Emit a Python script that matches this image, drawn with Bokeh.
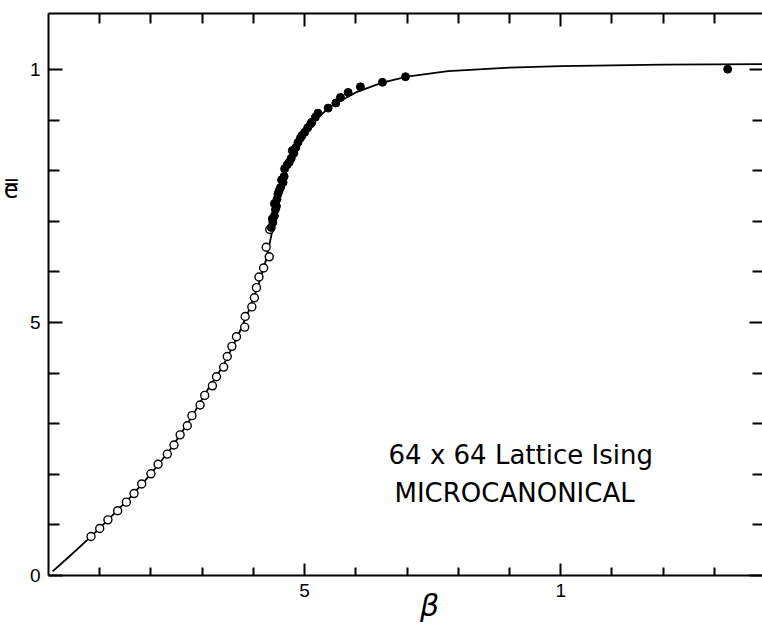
from bokeh.plotting import figure
from bokeh.models import LinearAxis, FixedTicker, Range1d
from bokeh.core.properties import value
from bokeh.embed import file_html
from bokeh.resources import INLINE

# ---- data ----
curve_x = [0.008, 0.04, 0.083, 0.12, 0.16, 0.20, 0.24, 0.28, 0.31, 0.34, 0.37, 0.39,
           0.41, 0.425, 0.435, 0.443, 0.45, 0.46, 0.47, 0.48, 0.50, 0.52, 0.55, 0.60,
           0.65, 0.70, 0.78, 0.90, 1.0, 1.2, 1.394]
curve_y = [0.008, 0.037, 0.077, 0.114, 0.155, 0.201, 0.252, 0.314, 0.366, 0.413, 0.474, 0.521,
           0.575, 0.625, 0.672, 0.715, 0.748, 0.788, 0.815, 0.840, 0.875, 0.900, 0.927, 0.955,
           0.974, 0.986, 0.997, 1.004, 1.007, 1.010, 1.011]

open_x = [0.083, 0.100, 0.116, 0.135, 0.152, 0.167, 0.182, 0.200, 0.214, 0.232, 0.245, 0.257,
          0.271, 0.280, 0.296, 0.305, 0.320, 0.328, 0.342, 0.349, 0.358, 0.367, 0.383, 0.384,
          0.397, 0.402, 0.406, 0.411, 0.420, 0.431, 0.425, 0.432]
open_y = [0.077, 0.093, 0.110, 0.128, 0.145, 0.162, 0.181, 0.201, 0.220, 0.240, 0.258, 0.278,
          0.296, 0.316, 0.337, 0.356, 0.375, 0.393, 0.412, 0.433, 0.453, 0.472, 0.491, 0.512,
          0.531, 0.549, 0.569, 0.590, 0.608, 0.630, 0.649, 0.684]

filled_x = [0.435, 0.438, 0.441, 0.443, 0.441, 0.446, 0.448, 0.453, 0.458, 0.460, 0.461, 0.470,
            0.474, 0.479, 0.483, 0.487, 0.492, 0.500, 0.506, 0.514, 0.521, 0.526, 0.546, 0.561,
            0.570, 0.585, 0.609, 0.652, 0.697, 1.326,
            0.437, 0.445, 0.450, 0.455, 0.466, 0.476, 0.495, 0.512]
filled_y = [0.688, 0.698, 0.711, 0.723, 0.735, 0.744, 0.754, 0.767, 0.777, 0.789, 0.804, 0.817,
            0.825, 0.835, 0.846, 0.856, 0.865, 0.876, 0.885, 0.896, 0.906, 0.914, 0.924, 0.934,
            0.945, 0.955, 0.966, 0.975, 0.986, 1.001,
            0.705, 0.730, 0.760, 0.782, 0.812, 0.840, 0.870, 0.893]

x_major = [0.5, 1]
x_major_labels = ["5", "1"]
x_minor = [0.1, 0.2, 0.3, 0.4, 0.6, 0.7, 0.8, 0.9, 1.1, 1.2, 1.3]
y_major = [0, 0.5, 1]
y_major_labels = ["0", "5", "1"]
y_minor = [0.1, 0.2, 0.3, 0.4, 0.6, 0.7, 0.8, 0.9]

title_lines = ["64 x 64 Lattice Ising", "MICROCANONICAL"]
title_x = [0.922, 0.910]
title_y = [0.238, 0.163]
x_label = "\u03b2"
x_label_pos = 0.744
y_label = "e\u033f"
y_label_pos = 0.763

FONT = "Liberation Sans"

p = figure(width=762, height=626,
           x_range=Range1d(0, 1.394), y_range=Range1d(0, 1.111),
           output_backend="svg", toolbar_location=None,
           min_border_left=47, min_border_right=0,
           min_border_top=13, min_border_bottom=51,
           x_axis_location=None, y_axis_location=None)
p.grid.visible = False
p.outline_line_color = None
p.background_fill_color = "white"
p.border_fill_color = "white"


def make_axis(major, minor, labels, major_in, minor_in):
    ax = LinearAxis()
    ax.ticker = FixedTicker(ticks=major, minor_ticks=minor)
    ax.major_tick_in = major_in
    ax.major_tick_out = 0
    ax.minor_tick_in = minor_in
    ax.minor_tick_out = 0
    ax.axis_line_color = "black"
    ax.axis_line_width = 2
    ax.major_tick_line_color = "black"
    ax.major_tick_line_width = 2
    ax.minor_tick_line_color = "black"
    ax.minor_tick_line_width = 2
    if labels is None:
        ax.major_label_overrides = {t: "" for t in major}
    else:
        ax.major_label_overrides = {t: s for t, s in zip(major, labels)}
    ax.major_label_text_font = FONT
    ax.major_label_text_font_size = "19px"
    ax.major_label_text_color = "black"
    ax.major_label_standoff = 8
    return ax


def label_axis(pos, text, size, standoff, italic=False):
    ax = LinearAxis()
    ax.ticker = FixedTicker(ticks=[pos], minor_ticks=[])
    ax.major_label_overrides = {pos: text}
    ax.axis_line_color = None
    ax.major_tick_line_color = None
    ax.minor_tick_line_color = None
    ax.major_tick_in = 0
    ax.major_tick_out = 0
    ax.minor_tick_in = 0
    ax.minor_tick_out = 0
    ax.major_label_text_font = "DejaVu Sans"
    ax.major_label_text_font_size = size
    ax.major_label_text_font_style = "italic" if italic else "normal"
    ax.major_label_text_color = "black"
    ax.major_label_standoff = standoff
    return ax


bottom = make_axis(x_major, x_minor, x_major_labels, 12, 8)
top = make_axis(x_major, x_minor, None, 13, 10)
left = make_axis(y_major, y_minor, y_major_labels, 14, 11)
right = make_axis(y_major, y_minor, None, 13, 10)
right.axis_line_color = None

p.add_layout(bottom, "below")
p.add_layout(top, "above")
p.add_layout(left, "left")
p.add_layout(right, "right")
p.add_layout(label_axis(x_label_pos, x_label, "30px", -12, italic=True), "below")
p.add_layout(label_axis(y_label_pos, y_label, "24px", 8), "left")

# curve and points
p.line(curve_x, curve_y, line_color="black", line_width=1.8)
p.scatter(open_x, open_y, marker="circle", size=8, fill_color="white",
          line_color="black", line_width=1.4)
p.scatter(filled_x, filled_y, marker="circle", size=8, fill_color="black",
          line_color="black", line_width=1)

# annotation text
p.text(x=title_x, y=title_y, text=title_lines, text_font=value("DejaVu Sans"),
       text_font_size="26px", text_align="center", text_baseline="alphabetic",
       text_color="black")

open("out.html", "w").write(file_html(p, INLINE))
